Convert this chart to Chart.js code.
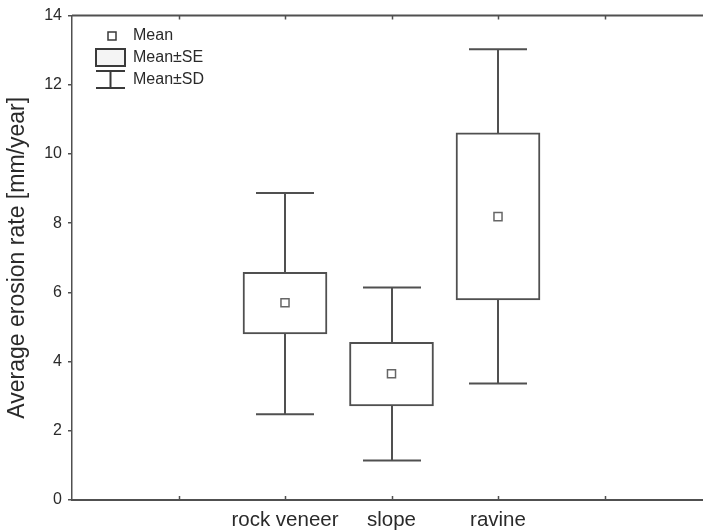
<!DOCTYPE html>
<html>
<head>
<meta charset="utf-8">
<script src="https://cdn.jsdelivr.net/npm/chart.js@4.4.1/dist/chart.umd.min.js"></script>
<style>
  html, body { margin: 0; padding: 0; background: #fff; overflow: hidden; }
  #wrap { width: 720px; height: 531px; }
</style>
</head>
<body>
<div id="wrap"><canvas id="chart"></canvas></div>
<script>
// erosion rate by landform (mm/year)
const categories = ["rock veneer", "slope", "ravine"];
const means = [5.70, 3.65, 8.19];
const seLow = [4.80, 2.72, 5.78];
const seHigh = [6.58, 4.56, 10.61];
const sdLow = [2.48, 1.14, 3.37];
const sdHigh = [8.87, 6.14, 13.03];
const legendLabels = ["Mean", "Mean±SE", "Mean±SD"];
const yTitle = "Average erosion rate [mm/year]";

const FONT = "'Liberation Sans', Arial, sans-serif";
const LINE = "#505050";
const TEXT = "#2a2a2a";
const CAP_HALF = 29;

// categories sit on slots 2..4 of a 0..6 axis
const slot = i => i + 2;

// whiskers, frame, inner ticks and legend
const boxExtras = {
  id: "boxExtras",
  afterDatasetsDraw(chart) {
    const ctx = chart.ctx;
    const x = chart.scales.x;
    const y = chart.scales.y;
    const area = chart.chartArea;

    ctx.save();
    ctx.strokeStyle = LINE;
    ctx.lineWidth = 2;
    categories.forEach((c, i) => {
      const px = Math.round(x.getPixelForValue(slot(i)));
      const yLo = y.getPixelForValue(sdLow[i]);
      const yHi = y.getPixelForValue(sdHigh[i]);
      ctx.beginPath();
      ctx.moveTo(px, yHi);
      ctx.lineTo(px, y.getPixelForValue(seHigh[i]));
      ctx.moveTo(px, y.getPixelForValue(seLow[i]));
      ctx.lineTo(px, yLo);
      ctx.moveTo(px - CAP_HALF, yHi);
      ctx.lineTo(px + CAP_HALF, yHi);
      ctx.moveTo(px - CAP_HALF, yLo);
      ctx.lineTo(px + CAP_HALF, yLo);
      ctx.stroke();
    });

    // top frame line
    ctx.beginPath();
    ctx.moveTo(area.left, area.top);
    ctx.lineTo(area.right, area.top);
    ctx.stroke();

    // inner ticks on top and bottom
    ctx.lineWidth = 1.5;
    ctx.beginPath();
    for (let v = 1; v < 6; v++) {
      const px = Math.round(x.getPixelForValue(v)) + 0.5;
      ctx.moveTo(px, area.top);
      ctx.lineTo(px, area.top + 4);
      ctx.moveTo(px, area.bottom);
      ctx.lineTo(px, area.bottom - 4);
    }
    ctx.stroke();

    // legend
    ctx.lineWidth = 1.5;
    ctx.strokeStyle = "#3a3a3a";
    ctx.fillStyle = "#fff";
    ctx.fillRect(108, 32, 8, 8);
    ctx.strokeRect(108, 32, 8, 8);

    ctx.lineWidth = 2;
    ctx.fillStyle = "#f4f4f4";
    ctx.fillRect(96, 49, 29, 17);
    ctx.strokeRect(96, 49, 29, 17);

    ctx.beginPath();
    ctx.moveTo(96, 71);
    ctx.lineTo(125, 71);
    ctx.moveTo(110.5, 71);
    ctx.lineTo(110.5, 88);
    ctx.moveTo(96, 88);
    ctx.lineTo(125, 88);
    ctx.stroke();

    ctx.fillStyle = TEXT;
    ctx.font = "16px " + FONT;
    ctx.textBaseline = "middle";
    ctx.textAlign = "left";
    ctx.fillText(legendLabels[0], 133, 36);
    ctx.fillText(legendLabels[1], 133, 58);
    ctx.fillText(legendLabels[2], 133, 80);
    ctx.restore();
  }
};

new Chart(document.getElementById("chart"), {
  type: "bar",
  data: {
    datasets: [
      {
        type: "scatter",
        label: "Mean",
        data: means.map((m, i) => ({ x: slot(i), y: m })),
        pointStyle: "rect",
        pointRadius: 5.7,
        pointBorderWidth: 1.5,
        pointBorderColor: "#666",
        pointBackgroundColor: "#fff",
        order: 0
      },
      {
        type: "bar",
        label: "Mean±SE",
        data: categories.map((c, i) => ({ x: slot(i), y: [seLow[i], seHigh[i]] })),
        backgroundColor: "#fff",
        borderColor: LINE,
        borderWidth: 2,
        borderSkipped: false,
        barThickness: 84,
        order: 1
      }
    ]
  },
  options: {
    responsive: true,
    maintainAspectRatio: false,
    animation: false,
    layout: { padding: { top: 14, right: 9, left: 0, bottom: 0 } },
    plugins: {
      legend: { display: false },
      tooltip: { enabled: false }
    },
    scales: {
      x: {
        type: "linear",
        min: 0,
        max: 6,
        offset: false,
        afterFit: s => { s.height = 31; },
        afterBuildTicks: s => { s.ticks = [0, 1, 2, 3, 4, 5, 6].map(v => ({ value: v })); },
        ticks: {
          autoSkip: false,
          maxRotation: 0,
          padding: 8,
          color: TEXT,
          font: { family: FONT, size: 20.5 },
          callback: v => categories[v - 2] || ""
        },
        grid: { display: true, offset: false, drawOnChartArea: false, drawTicks: false },
        border: { display: true, color: LINE, width: 2 }
      },
      y: {
        min: 0,
        max: 14,
        afterFit: s => { s.width = 72; },
        ticks: {
          stepSize: 2,
          padding: 6,
          color: TEXT,
          font: { family: FONT, size: 16 }
        },
        grid: { drawOnChartArea: false, tickLength: 4, color: LINE, lineWidth: 1.5 },
        border: { display: true, color: LINE, width: 1.5 },
        title: {
          display: true,
          text: yTitle,
          color: TEXT,
          font: { family: FONT, size: 23 },
          padding: { top: 4, bottom: 0 }
        }
      }
    }
  },
  plugins: [boxExtras]
});
</script>
</body>
</html>
